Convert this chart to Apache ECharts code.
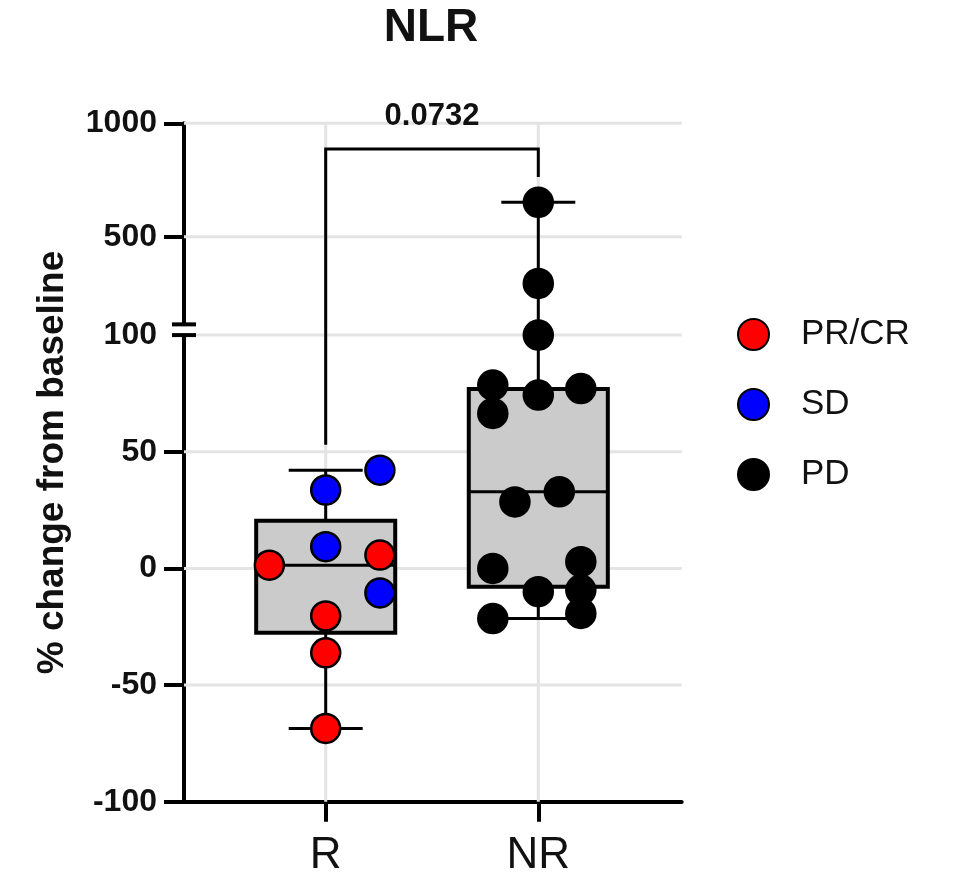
<!DOCTYPE html>
<html>
<head>
<meta charset="utf-8">
<script src="https://cdn.jsdelivr.net/npm/echarts@6/dist/echarts.min.js"></script>
<style>
html, body { margin: 0; padding: 0; background: #fff; }
#main { width: 953px; height: 879px; }
</style>
</head>
<body>
<div id="main"></div>
<script>
// groups on the x axis
const groups = ["R", "NR"];
const yTicks = [-100, -50, 0, 50, 100, 500, 1000];

// points: value, group index, horizontal jitter (x units)
const prcrValues = [1.4, 5.7, -20.4, -36.2, -68.6];
const prcrGroup = [0, 0, 0, 0, 0];
const prcrJitter = [-0.265, 0.255, 0, 0, 0];

const sdValues = [42.1, 33.6, 9.3, -10.5];
const sdGroup = [0, 0, 0, 0];
const sdJitter = [0.255, 0, 0, 0.255];

const pdValues = [651.5, 294, 100, 78.6, 74.3, 77.1, 66.4, 28.5, 32.8, 0, 2.9, -10, -9.3, -19.3, -21.5];
const pdGroup = [1, 1, 1, 1, 1, 1, 1, 1, 1, 1, 1, 1, 1, 1, 1];
const pdJitter = [0, 0, 0, -0.214, 0, 0.2, -0.214, -0.11, 0.099, -0.214, 0.2, 0, 0.2, 0.2, -0.214];

// box stats: min, q1, median, q3, max
const boxR = [-68.6, -27.6, 1.4, 20.4, 42.1];
const boxNR = [-21.5, -7.9, 32.8, 76.9, 651.5];

// comparison bracket: top, left leg end, right leg end
const bracketTop = 887;
const bracketLeft = 53;
const bracketRight = 763;
const pValue = "0.0732";

// broken y axis: linear up to 100, compressed above
const BREAK_AT = 100;
const UPPER_START = 103.3;
const UPPER_SCALE = 0.0972;
const BREAK_MARK_TOP = 104.6;
function ty(v){
	return v <= BREAK_AT ? v : UPPER_START + (v - BREAK_AT) * UPPER_SCALE;
}

const X_MIN = 0.3335, X_MAX = 2.6745;
const BOX_W = 0.654, CAP_W = 0.348;
const FONT = "Arial, 'Liberation Sans', sans-serif";
const INK = "#111";

const labelOf = {};
yTicks.forEach(function(t){ labelOf[ty(t).toFixed(3)] = String(t); });

function points(vals, grp, jit){
	return vals.map(function(v, i){ return [grp[i] + 1 + jit[i], ty(v)]; });
}

const dotStyle = function(color){
	return {type: "scatter", symbol: "circle", symbolSize: 29, z: 5,
		itemStyle: {color: color, borderColor: "#000", borderWidth: 2.5, opacity: 1}};
};

var mychart = echarts.init(document.getElementById("main"));

const option = {
	animation: false,
	title: {text: "NLR", left: 431, top: 5, textAlign: "center", padding: 0,
		textStyle: {fontFamily: FONT, fontSize: 46, fontWeight: "bold", color: INK}},
	legend: {
		data: ["PR/CR", "SD", "PD"], orient: "vertical", left: 737, top: 317, padding: 0,
		icon: "circle", itemWidth: 31, itemHeight: 31, itemGap: 35,
		textStyle: {fontFamily: FONT, fontSize: 35, color: INK, padding: [0, 0, 0, 27]}
	},
	grid: {left: 184, right: 271.3, top: 123.3, bottom: 77.3},
	xAxis: {
		type: "value", min: X_MIN, max: X_MAX,
		axisLine: {onZero: false, lineStyle: {color: "#000", width: 4}},
		axisTick: {customValues: [1, 2], length: 20, lineStyle: {color: "#000", width: 4}},
		axisLabel: {customValues: [1, 2], margin: 32, formatter: function(v){ return groups[Math.round(v) - 1]; },
			fontFamily: FONT, fontSize: 44, color: INK},
		splitLine: {show: false}
	},
	yAxis: {
		type: "value", min: -100, max: ty(1000),
		name: "% change from baseline", nameLocation: "middle", nameRotate: 90, nameGap: 113,
		nameTextStyle: {fontFamily: FONT, fontSize: 37, fontWeight: "bold", color: INK},
		axisLine: {show: true, onZero: false, lineStyle: {color: "#000", width: 4}},
		axisTick: {customValues: [-100, -50, 0, 50, 500, 1000].map(ty), length: 20, lineStyle: {color: "#000", width: 4}},
		axisLabel: {customValues: yTicks.map(ty), margin: 27,
			formatter: function(v){ return labelOf[v.toFixed(3)] || ""; },
			fontFamily: FONT, fontSize: 32, fontWeight: "bold", color: INK},
		splitLine: {show: false}
	},
	series: [
		{
			type: "custom", z: 1, silent: true,
			data: [[1, 0], [2, 0]].concat([-50, 0, 50, 100, 500, 1000].map(function(t){ return [0, ty(t)]; })),
			renderItem: function(params, api){
				const cs = params.coordSys;
				const style = {stroke: "#e4e4e4", lineWidth: 3};
				if(api.value(0) > 0){
					const x = api.coord([api.value(0), -100])[0];
					return {type: "line", shape: {x1: x, y1: cs.y, x2: x, y2: cs.y + cs.height}, style: style};
				}
				const y = api.coord([1, api.value(1)])[1];
				return {type: "line", shape: {x1: cs.x, y1: y, x2: cs.x + cs.width, y2: y}, style: style};
			}
		},
		{
			type: "custom", z: 3, silent: true,
			encode: {x: 0, y: [1, 2, 3, 4, 5]},
			data: [[1].concat(boxR.map(ty)), [2].concat(boxNR.map(ty))],
			renderItem: function(params, api){
				const x = api.value(0);
				const p = [1, 2, 3, 4, 5].map(function(d){ return api.coord([x, api.value(d)]); });
				const cx = p[0][0];
				const bw = api.size([BOX_W, 0])[0] / 2;
				const cw = api.size([CAP_W, 0])[0] / 2;
				const ln = {stroke: "#000", lineWidth: 3};
				return {type: "group", children: [
					{type: "line", shape: {x1: cx, y1: p[4][1], x2: cx, y2: p[3][1]}, style: ln},
					{type: "line", shape: {x1: cx, y1: p[0][1], x2: cx, y2: p[1][1]}, style: ln},
					{type: "line", shape: {x1: cx - cw, y1: p[4][1], x2: cx + cw, y2: p[4][1]}, style: ln},
					{type: "line", shape: {x1: cx - cw, y1: p[0][1], x2: cx + cw, y2: p[0][1]}, style: ln},
					{type: "rect", shape: {x: cx - bw, y: p[3][1], width: 2 * bw, height: p[1][1] - p[3][1]},
						style: {fill: "#cbcbcb", stroke: "#000", lineWidth: 4}},
					{type: "line", shape: {x1: cx - bw, y1: p[2][1], x2: cx + bw, y2: p[2][1]}, style: ln}
				]};
			}
		},
		Object.assign(dotStyle("#ff0000"), {name: "PR/CR", data: points(prcrValues, prcrGroup, prcrJitter)}),
		Object.assign(dotStyle("#0000ff"), {name: "SD", data: points(sdValues, sdGroup, sdJitter)}),
		Object.assign(dotStyle("#000000"), {name: "PD", data: points(pdValues, pdGroup, pdJitter)}),
		{
			type: "custom", z: 4, silent: true, clip: false,
			data: [[1, 2, ty(bracketTop), ty(bracketLeft), ty(bracketRight)]],
			renderItem: function(params, api){
				const a = api.coord([api.value(0), api.value(3)]);
				const b = api.coord([api.value(0), api.value(2)]);
				const c = api.coord([api.value(1), api.value(2)]);
				const d = api.coord([api.value(1), api.value(4)]);
				return {type: "group", children: [
					{type: "polyline", shape: {points: [a, b, c, d]}, style: {stroke: "#000", lineWidth: 3, fill: null}},
					{type: "text", x: (b[0] + c[0]) / 2, y: b[1] - 32,
						style: {text: pValue, align: "center", verticalAlign: "middle",
							font: "bold 31px " + FONT, fill: INK}}
				]};
			}
		},
		{
			type: "custom", z: 6, silent: true, clip: false,
			data: [[X_MIN, BREAK_AT, BREAK_MARK_TOP]],
			renderItem: function(params, api){
				const lo = api.coord([api.value(0), api.value(1)]);
				const hi = api.coord([api.value(0), api.value(2)]);
				const mk = {stroke: "#000", lineWidth: 4};
				return {type: "group", children: [
					{type: "rect", shape: {x: lo[0] - 5, y: hi[1], width: 10, height: lo[1] - hi[1]}, style: {fill: "#fff"}},
					{type: "line", shape: {x1: lo[0] - 12, y1: lo[1], x2: lo[0] + 12, y2: lo[1]}, style: mk},
					{type: "line", shape: {x1: hi[0] - 12, y1: hi[1], x2: hi[0] + 12, y2: hi[1]}, style: mk}
				]};
			}
		}
	]
};
mychart.setOption(option);
</script>
</body>
</html>
